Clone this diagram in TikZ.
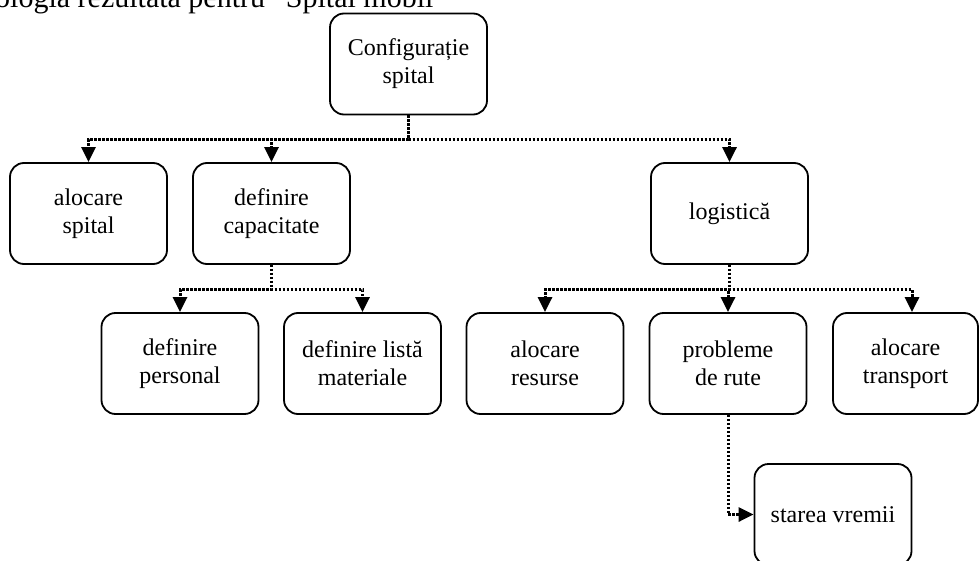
\documentclass[tikz,border=0pt]{standalone}
\usepackage{fontspec}
\setmainfont{Liberation Serif}
\usetikzlibrary{arrows.meta}
\begin{document}
\begin{tikzpicture}[x=1pt,y=-1pt,
  box/.style={draw, line width=1.8pt, rounded corners=14pt, minimum width=157pt,
    minimum height=101pt, align=center, font=\fontsize{24}{28}\selectfont, inner sep=0pt},
  conn/.style={line width=3pt, dash pattern=on 2.2pt off 1.8pt,
    -{Triangle[length=15pt,width=14pt]}}]
\useasboundingbox (0,0) rectangle (979,561);
\clip (0,0) rectangle (979,561);
\node[anchor=base west, font=\fontsize{30}{36}\selectfont, inner sep=0pt] (title) at (-50,8)
  {Ontologia rezultată pentru “Spital mobil”};
\node[box] (cfg) at (408.5,64) {Configurație\\spital};
\node[box] (aloc) at (88.5,213.5) {alocare\\spital};
\node[box] (defcap) at (271.5,213.5) {definire\\capacitate};
\node[box] (log) at (729.5,213.5) {logistică};
\node[box] (defpers) at (180,363.5) {definire\\personal};
\node[box] (deflist) at (362.5,363.5) {definire listă\\materiale};
\node[box] (alocres) at (545,363.5) {alocare\\resurse};
\node[box] (probl) at (728,363.5) {probleme\\de rute};
\node[box, minimum width=145pt] (alotr) at (905.5,363.5) {alocare\\transport};
\node[box] (starea) at (833,514.5) {starea vremii};
\draw[conn] (cfg.south) -- ++(0,24) -| (aloc.north);
\draw[conn] (cfg.south) -- ++(0,24) -| (defcap.north);
\draw[conn] (cfg.south) -- ++(0,24) -| (log.north);
\draw[conn] (defcap.south) -- ++(0,25) -| (defpers.north);
\draw[conn] (defcap.south) -- ++(0,25) -| (deflist.north);
\draw[conn] (log.south) -- ++(0,25) -| (alocres.north);
\draw[conn] (log.south) -- ++(0,25) -| (probl.north);
\draw[conn] (log.south) -- ++(0,25) -| ([xshift=6.5pt]alotr.north);
\draw[conn] (probl.south) |- (starea.west);
\end{tikzpicture}
\end{document}
